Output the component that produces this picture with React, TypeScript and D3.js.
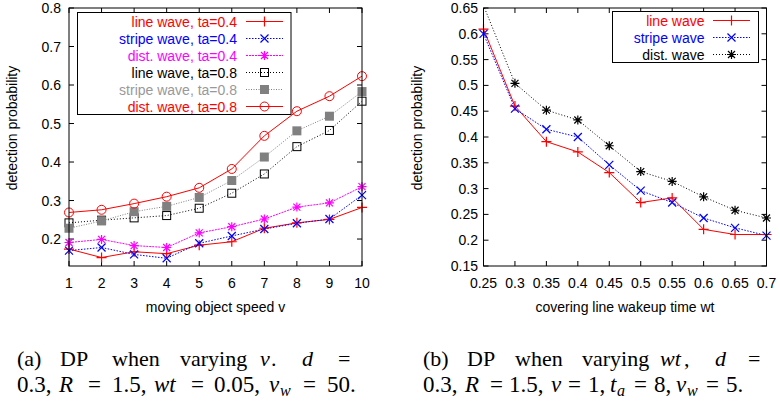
import React, { useEffect, useRef } from 'react';
import * as d3 from 'd3';

// (a) detection probability vs moving object speed
const speeds = [1, 2, 3, 4, 5, 6, 7, 8, 9, 10];
const lineWave04 = [0.174, 0.152, 0.167, 0.162, 0.184, 0.193, 0.228, 0.242, 0.251, 0.282];
const stripeWave04 = [0.17, 0.178, 0.16, 0.15, 0.189, 0.208, 0.226, 0.241, 0.252, 0.314];
const distWave04 = [0.191, 0.199, 0.183, 0.178, 0.216, 0.232, 0.252, 0.283, 0.294, 0.336];
const lineWave08 = [0.242, 0.249, 0.255, 0.261, 0.28, 0.319, 0.369, 0.44, 0.482, 0.558];
const stripeWave08 = [0.228, 0.247, 0.271, 0.285, 0.308, 0.352, 0.413, 0.481, 0.519, 0.583];
const distWave08 = [0.269, 0.276, 0.292, 0.31, 0.333, 0.382, 0.468, 0.532, 0.571, 0.623];
const speedTicks = ['1', '2', '3', '4', '5', '6', '7', '8', '9', '10'];
const probTicksA = ['0.2', '0.3', '0.4', '0.5', '0.6', '0.7', '0.8'];

// (b) detection probability vs covering line wakeup time
const wakeupTimes = [0.25, 0.3, 0.35, 0.4, 0.45, 0.5, 0.55, 0.6, 0.65, 0.7];
const lineWaveWt = [0.609, 0.46, 0.391, 0.371, 0.331, 0.273, 0.282, 0.221, 0.211, 0.211];
const stripeWaveWt = [0.6, 0.455, 0.415, 0.4, 0.346, 0.296, 0.273, 0.243, 0.224, 0.209];
const distWaveWt = [0.655, 0.504, 0.452, 0.433, 0.383, 0.333, 0.314, 0.284, 0.258, 0.243];
const wtTicks = ['0.25', '0.3', '0.35', '0.4', '0.45', '0.5', '0.55', '0.6', '0.65', '0.7'];
const probTicksB = ['0.15', '0.2', '0.25', '0.3', '0.35', '0.4', '0.45', '0.5', '0.55', '0.6', '0.65'];

// captions: [text, x, kind]  kind: r = roman, i = italic, s = italic subscript
const capA1 = [['(a)', 17, 'r'], ['DP', 60, 'r'], ['when', 112, 'r'], ['varying', 180, 'r'],
  ['v', 260, 'i'], ['.', 271, 'r'], ['d', 302, 'i'], ['=', 338, 'r']];
const capA2 = [['0.3,', 17, 'r'], ['R', 59, 'i'], ['=', 88, 'r'], ['1.5,', 112, 'r'], ['wt', 154, 'i'],
  ['=', 191, 'r'], ['0.05,', 214, 'r'], ['v', 269, 'i'], ['w', 280, 's'], ['=', 303, 'r'], ['50.', 327, 'r']];
const capB1 = [['(b)', 423, 'r'], ['DP', 467, 'r'], ['when', 515, 'r'], ['varying', 582, 'r'],
  ['wt', 660, 'i'], [',', 684, 'r'], ['d', 715, 'i'], ['=', 748, 'r']];
const capB2 = [['0.3,', 423, 'r'], ['R', 465, 'i'], ['=', 490, 'r'], ['1.5,', 509, 'r'], ['v', 551, 'i'],
  ['=', 568, 'r'], ['1,', 588, 'r'], ['t', 610, 'i'], ['a', 617, 's'], ['=', 634, 'r'], ['8,', 654, 'r'],
  ['v', 676, 'i'], ['w', 687, 's'], ['=', 706, 'r'], ['5.', 726, 'r']];

const FONT = '"Liberation Sans", Arial, sans-serif';
const SERIF = '"Liberation Serif", "Times New Roman", serif';

type Series = {
  label: string;
  values: number[];
  color: string;
  textColor?: string;
  dash: string | null;
  marker: string;
};

const seriesA: Series[] = [
  { label: 'line wave, ta=0.4', values: lineWave04, color: '#ff0000', dash: null, marker: 'plus' },
  { label: 'stripe wave, ta=0.4', values: stripeWave04, color: '#0000ff', dash: '1.5,1.5', marker: 'cross' },
  { label: 'dist. wave, ta=0.4', values: distWave04, color: '#ff00ff', dash: '2,1', marker: 'star' },
  { label: 'line wave, ta=0.8', values: lineWave08, color: '#000000', dash: '1,2', marker: 'openSquare' },
  { label: 'stripe wave, ta=0.8', values: stripeWave08, color: '#808080', textColor: '#999999', dash: '1,1.5', marker: 'filledSquare' },
  { label: 'dist. wave, ta=0.8', values: distWave08, color: '#ff0000', dash: null, marker: 'openCircle' },
];

const seriesB: Series[] = [
  { label: 'line wave', values: lineWaveWt, color: '#ff0000', dash: null, marker: 'plus' },
  { label: 'stripe wave', values: stripeWaveWt, color: '#0000ff', dash: '1.5,1.5', marker: 'cross' },
  { label: 'dist. wave', values: distWaveWt, color: '#000000', dash: '1,2', marker: 'star' },
];

function drawMarker(g: any, type: string, x: number, y: number, color: string) {
  if (type === 'plus') {
    g.append('path').attr('d', `M${x - 5},${y}H${x + 5}M${x},${y - 5}V${y + 5}`)
      .attr('stroke', color).attr('stroke-width', 1.2).attr('fill', 'none');
  } else if (type === 'cross') {
    g.append('path').attr('d', `M${x - 4},${y - 4}L${x + 4},${y + 4}M${x - 4},${y + 4}L${x + 4},${y - 4}`)
      .attr('stroke', color).attr('stroke-width', 1.2).attr('fill', 'none');
  } else if (type === 'star') {
    g.append('path')
      .attr('d', `M${x - 4.5},${y}H${x + 4.5}M${x},${y - 4.5}V${y + 4.5}M${x - 3.5},${y - 3.5}L${x + 3.5},${y + 3.5}M${x - 3.5},${y + 3.5}L${x + 3.5},${y - 3.5}`)
      .attr('stroke', color).attr('stroke-width', 1.2).attr('fill', 'none');
  } else if (type === 'openSquare') {
    g.append('rect').attr('x', x - 4).attr('y', y - 4).attr('width', 8).attr('height', 8)
      .attr('stroke', color).attr('stroke-width', 1).attr('fill', 'none');
  } else if (type === 'filledSquare') {
    g.append('rect').attr('x', x - 4.5).attr('y', y - 4.5).attr('width', 9).attr('height', 9)
      .attr('fill', color);
  } else if (type === 'openCircle') {
    g.append('circle').attr('cx', x).attr('cy', y).attr('r', 4.5)
      .attr('stroke', color).attr('stroke-width', 1).attr('fill', 'none');
  }
}

function drawPanel(root: any, opts: any) {
  const { id, xs, series, xTicks, yTicks, xDomain, yDomain, left, right, top, bottom,
    xLabel, yLabelX, yLabelY, yTickEnd, legend } = opts;
  const x = d3.scaleLinear().domain(xDomain).range([left, right]);
  const y = d3.scaleLinear().domain(yDomain).range([bottom, top]);
  const g = root.append('g');

  g.append('clipPath').attr('id', id).append('rect')
    .attr('x', left).attr('y', top).attr('width', right - left).attr('height', bottom - top);

  // ticks (inside, mirrored)
  const ticks = g.append('g').attr('stroke', '#000').attr('stroke-width', 1);
  xTicks.forEach((t: string) => {
    const px = x(+t);
    ticks.append('line').attr('x1', px).attr('x2', px).attr('y1', bottom).attr('y2', bottom - 5);
    ticks.append('line').attr('x1', px).attr('x2', px).attr('y1', top).attr('y2', top + 5);
    g.append('text').attr('x', px).attr('y', bottom + 22).attr('text-anchor', 'middle')
      .attr('font-family', FONT).attr('font-size', 14).attr('fill', '#000').text(t);
  });
  yTicks.forEach((t: string) => {
    const py = y(+t);
    ticks.append('line').attr('x1', left).attr('x2', left + 5).attr('y1', py).attr('y2', py);
    ticks.append('line').attr('x1', right).attr('x2', right - 5).attr('y1', py).attr('y2', py);
    g.append('text').attr('x', yTickEnd).attr('y', py + 5).attr('text-anchor', 'end')
      .attr('font-family', FONT).attr('font-size', 14).attr('fill', '#000').text(t);
  });

  const lineGen = d3.line<number>().x((_d, i) => x(xs[i])).y(d => y(d));
  series.forEach((s: Series) => {
    const p = g.append('path').attr('d', lineGen(s.values)).attr('fill', 'none')
      .attr('stroke', s.color).attr('stroke-width', 1).attr('clip-path', `url(#${id})`);
    if (s.dash) p.attr('stroke-dasharray', s.dash);
  });
  series.forEach((s: Series) => {
    s.values.forEach((v, i) => {
      if (v > yDomain[1] || v < yDomain[0]) return;
      drawMarker(g, s.marker, x(xs[i]), y(v), s.color);
    });
  });

  // frame
  g.append('rect').attr('x', left).attr('y', top).attr('width', right - left).attr('height', bottom - top)
    .attr('fill', 'none').attr('stroke', '#000').attr('stroke-width', 1);

  // legend
  const lg = g.append('g');
  lg.append('rect').attr('x', legend.x0).attr('y', legend.y0)
    .attr('width', legend.x1 - legend.x0).attr('height', legend.y1 - legend.y0)
    .attr('fill', '#fff').attr('stroke', '#000').attr('stroke-width', 1);
  series.forEach((s: Series, i: number) => {
    const ry = legend.row0 + i * legend.step;
    lg.append('text').attr('x', legend.textEnd).attr('y', ry + 5).attr('text-anchor', 'end')
      .attr('font-family', FONT).attr('font-size', 14).attr('fill', s.textColor || s.color).text(s.label);
    const ln = lg.append('line').attr('x1', legend.lineStart).attr('x2', legend.lineEnd)
      .attr('y1', ry).attr('y2', ry).attr('stroke', s.color).attr('stroke-width', 1);
    if (s.dash) ln.attr('stroke-dasharray', s.dash);
    drawMarker(lg, s.marker, (legend.lineStart + legend.lineEnd) / 2, ry, s.color);
  });

  // axis titles
  g.append('text').attr('x', (left + right) / 2).attr('y', 312).attr('text-anchor', 'middle')
    .attr('font-family', FONT).attr('font-size', 14).attr('fill', '#000').text(xLabel);
  g.append('text').attr('transform', `translate(${yLabelX},${yLabelY}) rotate(-90)`)
    .attr('text-anchor', 'middle').attr('font-family', FONT).attr('font-size', 14)
    .attr('fill', '#000').text('detection probability');
}

function CaptionLine({ parts, y, size }: { parts: any[]; y: number; size: number }) {
  return (
    <g fontFamily={SERIF} fill="#000">
      {parts.map(([t, x, kind], i) => (
        <text key={i} x={x} y={kind === 's' ? y + 4 : y}
          fontSize={kind === 's' ? size * 0.7 : size}
          fontStyle={kind === 'r' ? 'normal' : 'italic'}>{t}</text>
      ))}
    </g>
  );
}

export default function App() {
  const ref = useRef<SVGGElement | null>(null);

  useEffect(() => {
    const root = d3.select(ref.current);
    root.selectAll('*').remove();

    drawPanel(root, {
      id: 'clipA', xs: speeds, series: seriesA, xTicks: speedTicks, yTicks: probTicksA,
      xDomain: [1, 10], yDomain: [0.13, 0.8], left: 69, right: 362, top: 8, bottom: 266,
      xLabel: 'moving object speed v', yLabelX: 16.5, yLabelY: 128, yTickEnd: 61,
      legend: { x0: 77.5, x1: 291, y0: 12.5, y1: 114.5, row0: 21.5, step: 17, textEnd: 237, lineStart: 246, lineEnd: 283 },
    });
    drawPanel(root, {
      id: 'clipB', xs: wakeupTimes, series: seriesB, xTicks: wtTicks, yTicks: probTicksB,
      xDomain: [0.25, 0.7], yDomain: [0.15, 0.65], left: 483.5, right: 766.5, top: 8, bottom: 266,
      xLabel: 'covering line wakeup time wt', yLabelX: 422, yLabelY: 128, yTickEnd: 478,
      legend: { x0: 612.5, x1: 758.5, y0: 11.5, y1: 62.5, row0: 20.5, step: 17, textEnd: 704.5, lineStart: 713, lineEnd: 750 },
    });
  }, []);

  return (
    <svg width={780} height={404} style={{ position: 'absolute', left: 0, top: 0, background: '#fff' }}>
      <g ref={ref} />
      <CaptionLine parts={capA1} y={366} size={22} />
      <CaptionLine parts={capA2} y={392} size={23} />
      <CaptionLine parts={capB1} y={366} size={22} />
      <CaptionLine parts={capB2} y={392} size={23} />
    </svg>
  );
}
